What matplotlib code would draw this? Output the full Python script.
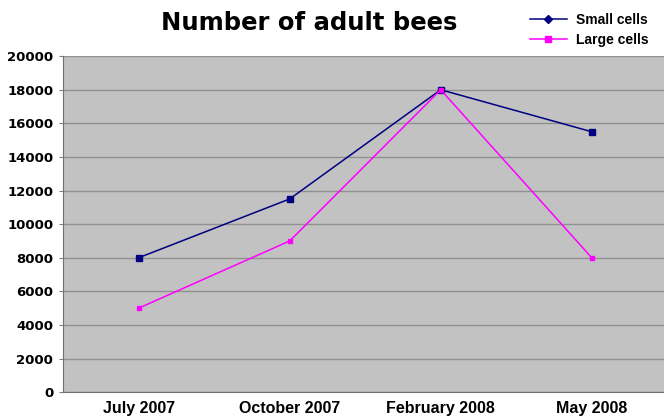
import matplotlib
matplotlib.use("Agg")
import matplotlib.pyplot as plt
from matplotlib.lines import Line2D

# survey dates and colony counts
months = ["July 2007", "October 2007", "February 2008", "May 2008"]
small_cells = [8000, 11500, 18000, 15500]
large_cells = [5000, 9000, 18000, 8000]
y_ticks = [0, 2000, 4000, 6000, 8000, 10000, 12000, 14000, 16000, 18000, 20000]

NAVY = '#000080'
MAGENTA = '#ff00ff'

fig = plt.figure(figsize=(6.64, 4.19), dpi=100)
ax = fig.add_axes([0.095, 0.064, 0.910, 0.802])
ax.set_facecolor('#c2c2c2')

x = list(range(len(months)))
ax.plot(x, small_cells, color=NAVY, linewidth=1.1, marker='s', markersize=4)
ax.plot(x, large_cells, color=MAGENTA, linewidth=1.1, marker='s', markersize=3.5)

ax.set_xlim(-0.5, len(months) - 0.5)
ax.set_ylim(0, 20000)
ax.set_yticks(y_ticks)
ax.set_yticklabels([str(t) for t in y_ticks], fontsize=9.5, fontweight='bold', family='DejaVu Sans')
ax.set_xticks(x)
ax.set_xticklabels(months, fontsize=11.5, fontweight='bold', family='Liberation Sans')
ax.tick_params(axis='x', length=0, pad=6)
ax.tick_params(axis='y', length=3, color='#808080', pad=4)

ax.grid(axis='y', color='#909090', linewidth=1)
ax.set_axisbelow(True)
for side in ['top', 'right']:
    ax.spines[side].set_visible(False)
ax.spines['left'].set_color('#707070')
ax.spines['bottom'].set_color('#707070')

fig.text(0.465, 0.945, "Number of adult bees", ha='center', va='center',
         fontsize=17.5, fontweight='bold', family='DejaVu Sans')

handles = [Line2D([], [], color=NAVY, marker='D', markersize=4, linewidth=1.1),
           Line2D([], [], color=MAGENTA, marker='s', markersize=5, linewidth=1.1)]
fig.legend(handles, ["Small cells", "Large cells"], loc='upper right',
           bbox_to_anchor=(0.995, 1.0), frameon=False, handlelength=2.7,
           prop={'family': 'Liberation Sans', 'weight': 'bold', 'size': 10},
           labelspacing=0.45, handletextpad=0.6)

fig.savefig("out.png", dpi=100)
